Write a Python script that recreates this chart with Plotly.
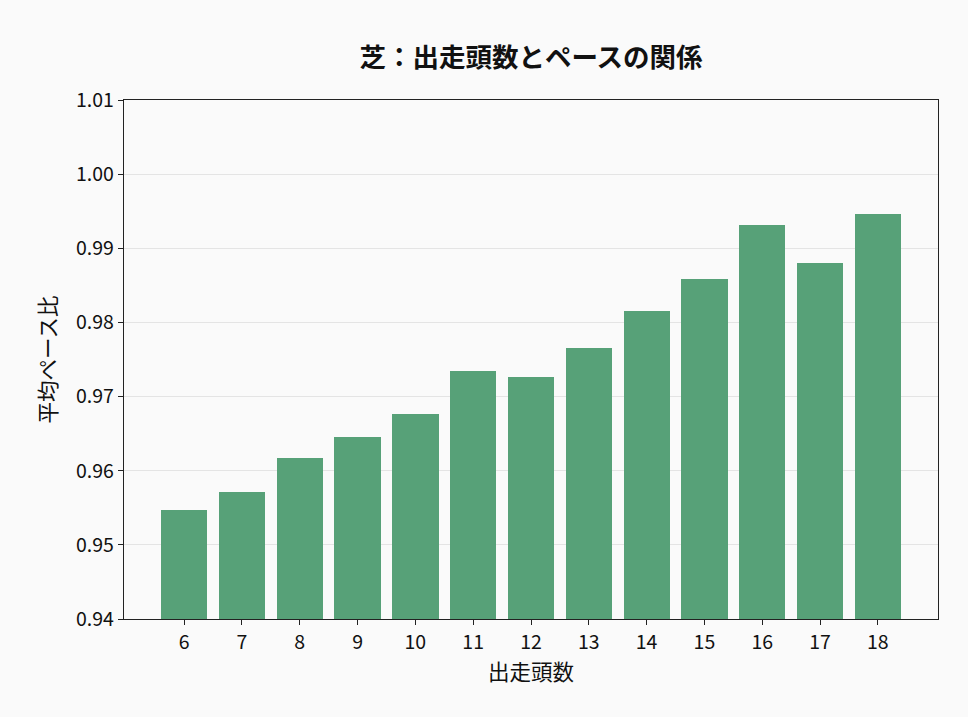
import plotly.graph_objects as go

field_sizes = [6, 7, 8, 9, 10, 11, 12, 13, 14, 15, 16, 17, 18]
pace_ratio = [0.9547, 0.9571, 0.9617, 0.9646, 0.9677, 0.9735, 0.9726,
              0.9766, 0.9816, 0.9859, 0.9932, 0.9880, 0.9946]
y_ticks = [0.94, 0.95, 0.96, 0.97, 0.98, 0.99, 1.00, 1.01]
y_tick_labels = ["0.94", "0.95", "0.96", "0.97", "0.98", "0.99", "1.00", "1.01"]

FONT = "Noto Sans CJK JP"

fig = go.Figure(go.Bar(
    x=field_sizes, y=pace_ratio, width=0.8,
    marker=dict(color="#57A178", line=dict(width=0)),
    hoverinfo="skip",
))

fig.update_layout(
    width=968, height=717,
    paper_bgcolor="#fafafa", plot_bgcolor="#fafafa",
    margin=dict(l=124, r=30, t=100, b=98),
    font=dict(family=FONT, size=19, color="#111111"),
    title=dict(text="<b>芝：出走頭数とペースの関係</b>", x=0.5, xref="paper", xanchor="center",
               y=1 - 57.5 / 717, yref="container", yanchor="middle",
               font=dict(family=FONT, size=26.5, color="#111111")),
    showlegend=False,
    bargap=0,
)

fig.update_xaxes(
    range=[4.96, 19.04], tickmode="array", tickvals=field_sizes,
    ticktext=[str(v) for v in field_sizes],
    ticks="outside", ticklen=5, tickwidth=1.2, tickcolor="#222",
    showline=True, linecolor="#222", linewidth=1.3, mirror=True,
    showgrid=False, zeroline=False,
    tickfont=dict(size=19.5),
    title=dict(text="出走頭数", standoff=11, font=dict(size=21.5)),
)
fig.update_yaxes(
    range=[0.94, 1.01], tickmode="array", tickvals=y_ticks, ticktext=y_tick_labels,
    ticks="outside", ticklen=5, tickwidth=1.2, tickcolor="#222",
    showline=True, linecolor="#222", linewidth=1.3, mirror=True,
    showgrid=True, gridcolor="#e4e4e4", gridwidth=1, zeroline=False,
    layer="below traces",
    tickfont=dict(size=19.5),
    title=dict(text="平均ペース比", standoff=13, font=dict(size=21.5)),
)

fig.write_html(
    "out.html",
    config={"displayModeBar": False},
    post_script="document.body.style.margin='0';document.body.style.background='#fafafa';",
)
